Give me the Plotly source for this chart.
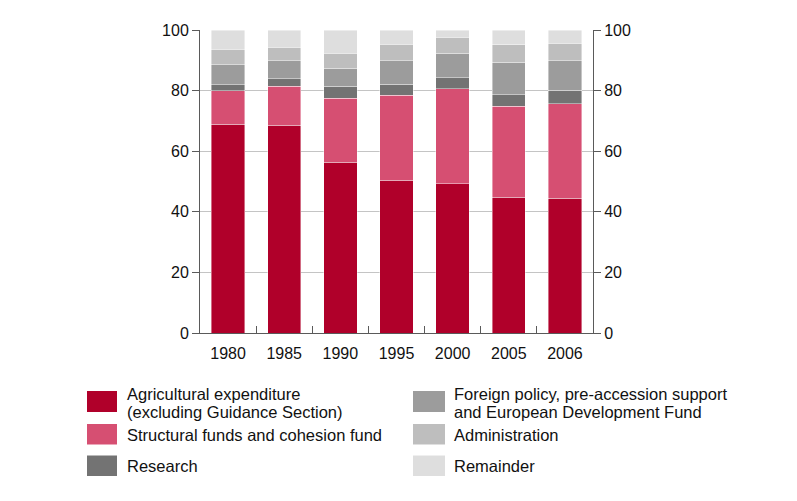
import plotly.graph_objects as go

years = ["1980", "1985", "1990", "1995", "2000", "2005", "2006"]

agricultural = [68.9, 68.6, 56.3, 50.4, 49.3, 44.8, 44.5]
structural = [11.0, 12.9, 21.1, 28.1, 31.3, 30.1, 31.1]
research = [2.0, 2.4, 4.0, 3.6, 3.6, 3.8, 4.5]
foreign = [6.7, 5.9, 5.9, 7.7, 8.1, 10.6, 9.7]
administration = [5.1, 4.5, 5.0, 5.5, 5.3, 5.8, 5.8]
remainder = [6.3, 5.7, 7.7, 4.7, 2.4, 4.9, 4.4]

series_names = [
    "Agricultural expenditure (excluding Guidance Section)",
    "Structural funds and cohesion fund",
    "Research",
    "Foreign policy, pre-accession support and European Development Fund",
    "Administration",
    "Remainder",
]
legend_lines = [
    ["Agricultural expenditure", "(excluding Guidance Section)"],
    ["Structural funds and cohesion fund"],
    ["Research"],
    ["Foreign policy, pre-accession support", "and European Development Fund"],
    ["Administration"],
    ["Remainder"],
]
series_values = [agricultural, structural, research, foreign, administration, remainder]
colors = ["#B0002A", "#D64F72", "#737373", "#9C9C9C", "#BEBEBE", "#DEDEDE"]

y_ticks = [0, 20, 40, 60, 80, 100]

FONT = "Liberation Sans, Arial, sans-serif"
OFF = 8  # page body offset
W, H = 797, 501
L, R, T, B = 200 - OFF, 204 + OFF, 30 - OFF, 168 + OFF
PW, PH = W - L - R, H - T - B

fig = go.Figure()
for name, vals, col in zip(series_names, series_values, colors):
    fig.add_trace(go.Bar(
        x=years, y=vals, name=name, marker_color=col,
        marker_line=dict(color="rgba(255,255,255,0.7)", width=0.6),
        showlegend=False,
    ))
# invisible trace for right axis
fig.add_trace(go.Scatter(x=years, y=[None] * len(years), yaxis="y2",
                         showlegend=False, hoverinfo="skip"))

axis_col = "#5a5a5a"
fig.update_layout(
    width=W, height=H,
    margin=dict(l=L, r=R, t=T, b=B),
    barmode="stack", bargap=0.406,
    plot_bgcolor="white", paper_bgcolor="white",
    font=dict(family=FONT, size=16, color="#111"),
    xaxis=dict(
        type="category", showgrid=False, showline=True, linecolor=axis_col, linewidth=1,
        ticks="inside", tickson="boundaries", ticklen=7, tickcolor=axis_col,
        tickfont=dict(size=16), zeroline=False, ticklabelstandoff=6,
    ),
    yaxis=dict(
        range=[0, 100], tickvals=y_ticks, showgrid=True, gridcolor="#c4c4c4", gridwidth=1,
        showline=True, linecolor=axis_col, linewidth=1, ticks="outside", ticklen=7,
        tickcolor=axis_col, tickfont=dict(size=16), zeroline=False, fixedrange=True,
    ),
    yaxis2=dict(
        range=[0, 100], tickvals=y_ticks, overlaying="y", side="right", showgrid=False,
        showline=True, linecolor=axis_col, linewidth=1, ticks="outside", ticklen=7,
        tickcolor=axis_col, tickfont=dict(size=16), zeroline=False,
    ),
)

def px_x(px):
    return (px - OFF - L) / PW

def px_y(py):
    return (H - B - (py - OFF)) / PH

# custom two-column legend (target page pixel positions)
col_sq_x = [(87, 117), (413, 445)]
col_tx_x = [125, 452]
rows_sq = [(391, 412), (424, 444.5), (455.5, 476)]
rows_txt = [[394, 411.5], [435], [466]]

shapes = []
annotations = []
for i, (lines, col) in enumerate(zip(legend_lines, colors)):
    c = i // 3
    r = i % 3
    x0, x1 = col_sq_x[c]
    y0, y1 = rows_sq[r]
    shapes.append(dict(type="rect", xref="paper", yref="paper",
                       x0=px_x(x0), x1=px_x(x1), y0=px_y(y1), y1=px_y(y0),
                       fillcolor=col, line=dict(width=0)))
    ys = rows_txt[r]
    for line, yy in zip(lines, ys):
        annotations.append(dict(xref="paper", yref="paper", x=px_x(col_tx_x[c]), y=px_y(yy),
                                text=line, showarrow=False, xanchor="left", yanchor="middle",
                                font=dict(size=16.5, family=FONT, color="#111")))

fig.update_layout(shapes=shapes, annotations=annotations)
fig.write_html("out.html")
